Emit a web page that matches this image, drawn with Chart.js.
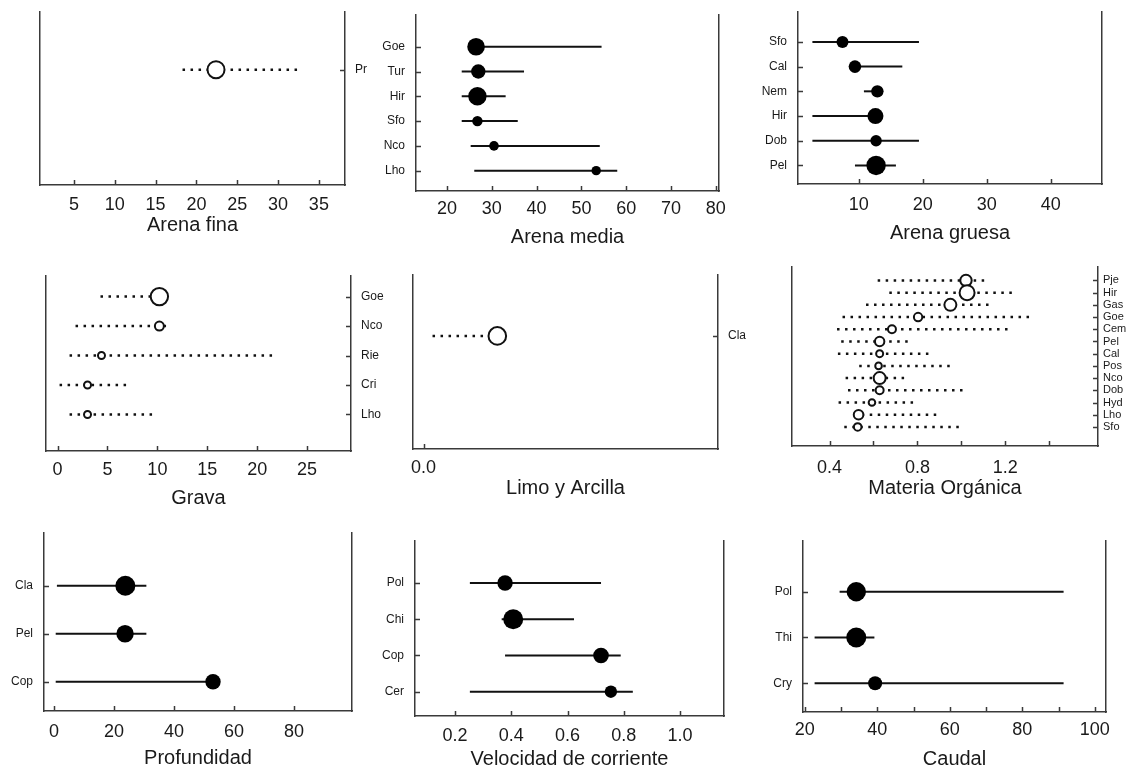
<!DOCTYPE html>
<html lang="es">
<head>
<meta charset="utf-8">
<title>Variables de hábitat por taxón</title>
<script src="https://cdn.jsdelivr.net/npm/chart.js@4.4.1/dist/chart.umd.min.js"></script>
<style>
  html, body { margin: 0; padding: 0; background: #fff; }
  #board { position: relative; width: 1128px; height: 776px; overflow: hidden; }
  #board canvas { position: absolute; }
</style>
</head>
<body>
<div id="board"></div>
<script>
"use strict";

// ---- data: one block per variable, taxa listed top to bottom ----
const finaCats = ["Pr"];
const finaMean = [22.4];
const finaLow = [18.3];
const finaHigh = [32.8];
const finaRadius = [8.5];
const finaTicks = [5, 10, 15, 20, 25, 30, 35];
const finaTickLabels = ["5", "10", "15", "20", "25", "30", "35"];

const mediaCats = ["Goe", "Tur", "Hir", "Sfo", "Nco", "Lho"];
const mediaMean = [26.5, 27.0, 26.8, 26.8, 30.5, 53.3];
const mediaLow = [25.5, 23.3, 23.3, 23.3, 25.3, 26.1];
const mediaHigh = [54.5, 37.2, 33.1, 35.8, 54.1, 58.0];
const mediaRadius = [8.8, 7.2, 9.2, 5.2, 4.8, 4.7];
const mediaTicks = [20, 30, 40, 50, 60, 70, 80];
const mediaTickLabels = ["20", "30", "40", "50", "60", "70", "80"];

const gruesaCats = ["Sfo", "Cal", "Nem", "Hir", "Dob", "Pel"];
const gruesaMean = [7.45, 9.4, 12.9, 12.6, 12.7, 12.7];
const gruesaLow = [2.75, 8.8, 10.8, 2.75, 2.75, 9.4];
const gruesaHigh = [19.4, 16.8, 13.8, 13.3, 19.4, 15.8];
const gruesaRadius = [6, 6.3, 6.2, 8, 5.7, 9.7];
const gruesaTicks = [10, 20, 30, 40];
const gruesaTickLabels = ["10", "20", "30", "40"];

const gravaCats = ["Goe", "Nco", "Rie", "Cri", "Lho"];
const gravaMean = [10.2, 10.2, 4.4, 3.0, 3.0];
const gravaLow = [4.3, 1.8, 1.2, 0.2, 1.2];
const gravaHigh = [10.5, 11.0, 22.0, 7.05, 9.8];
const gravaRadius = [8.7, 4.5, 3.5, 3.5, 3.5];
const gravaTicks = [0, 5, 10, 15, 20, 25];
const gravaTickLabels = ["0", "5", "10", "15", "20", "25"];

const limoCats = ["Cla"];
const limoMean = [0.238];
const limoLow = [0.029];
const limoHigh = [0.25];
const limoRadius = [8.8];
const limoTicks = [0];
const limoTickLabels = ["0.0"];

const organicaCats = ["Pje", "Hir", "Gas", "Goe", "Cem", "Pel", "Cal", "Pos", "Nco", "Dob", "Hyd", "Lho", "Sfo"];
const organicaMean = [1.021, 1.026, 0.95, 0.803, 0.684, 0.628, 0.628, 0.623, 0.628, 0.628, 0.593, 0.532, 0.528];
const organicaLow = [0.619, 0.672, 0.566, 0.459, 0.434, 0.453, 0.438, 0.535, 0.473, 0.484, 0.441, 0.51, 0.467];
const organicaHigh = [1.117, 1.246, 1.135, 1.325, 1.223, 0.764, 0.863, 0.953, 0.745, 1.014, 0.786, 0.897, 0.999];
const organicaRadius = [5.7, 7.5, 6, 4.2, 4, 4.7, 3.5, 3.3, 6, 4, 3.3, 4.8, 3.8];
const organicaTicks = [0.4, 0.6, 0.8, 1.0, 1.2, 1.4];
const organicaTickLabels = ["0.4", "", "0.8", "", "1.2", ""];

const profCats = ["Cla", "Pel", "Cop"];
const profMean = [23.8, 23.7, 53.0];
const profLow = [1.0, 0.6, 0.6];
const profHigh = [30.8, 30.8, 53.5];
const profRadius = [10, 8.7, 7.7];
const profTicks = [0, 20, 40, 60, 80];
const profTickLabels = ["0", "20", "40", "60", "80"];

const veloCats = ["Pol", "Chi", "Cop", "Cer"];
const veloMean = [0.378, 0.407, 0.719, 0.754];
const veloLow = [0.253, 0.366, 0.378, 0.253];
const veloHigh = [0.719, 0.623, 0.789, 0.832];
const veloRadius = [7.7, 10, 7.8, 6.2];
const veloTicks = [0.2, 0.4, 0.6, 0.8, 1.0];
const veloTickLabels = ["0.2", "0.4", "0.6", "0.8", "1.0"];

const caudalCats = ["Pol", "Thi", "Cry"];
const caudalMean = [34.2, 34.2, 39.4];
const caudalLow = [29.6, 22.7, 22.7];
const caudalHigh = [91.4, 39.2, 91.4];
const caudalRadius = [9.7, 10, 7];
const caudalTicks = [20, 30, 40, 50, 60, 70, 80, 90, 100];
const caudalTickLabels = ["20", "", "40", "", "60", "", "80", "", "100"];

// ---- look ----
const INK = "#111";
const AXIS = "#3a3a3a";
const TEXT = "#1a1a1a";
const FONT = "'Liberation Sans', Arial, sans-serif";
const SIDE = 50;      // width kept for each vertical axis
const TOP_PAD = 30;   // larger than the label padding the y scale asks for
const X_AXIS_H = 62;  // room under the plot for tick labels and title

// panel frames: plot box [left, top, right, bottom] on the page
const panels = [
  { title: "Arena fina", cats: finaCats, mean: finaMean, low: finaLow, high: finaHigh, radius: finaRadius,
    ticks: finaTicks, tickLabels: finaTickLabels, open: true, side: "right",
    box: [40, 12, 345, 185], xMin: 0.84, xMax: 38.2, yMin: -1, yMax: 2, tickPad: 9.5, titleOff: 40 },
  { title: "Arena media", cats: mediaCats, mean: mediaMean, low: mediaLow, high: mediaHigh, radius: mediaRadius,
    ticks: mediaTicks, tickLabels: mediaTickLabels, open: false, side: "left",
    box: [416, 15, 719, 191], xMin: 13.1, xMax: 80.7, yMin: 0.18, yMax: 7.28, tickPad: 7.5, titleOff: 46 },
  { title: "Arena gruesa", cats: gruesaCats, mean: gruesaMean, low: gruesaLow, high: gruesaHigh, radius: gruesaRadius,
    ticks: gruesaTicks, tickLabels: gruesaTickLabels, open: false, side: "left",
    box: [798, 12, 1102, 184], xMin: 0.5, xMax: 48, yMin: 0.25, yMax: 7.21, tickPad: 10.5, titleOff: 49 },
  { title: "Grava", cats: gravaCats, mean: gravaMean, low: gravaLow, high: gravaHigh, radius: gravaRadius,
    ticks: gravaTicks, tickLabels: gravaTickLabels, open: true, side: "right",
    box: [46, 276, 351, 451], xMin: -1.16, xMax: 29.4, yMin: -0.24, yMax: 5.7, tickPad: 8, titleOff: 47 },
  { title: "Limo y Arcilla", cats: limoCats, mean: limoMean, low: limoLow, high: limoHigh, radius: limoRadius,
    ticks: limoTicks, tickLabels: limoTickLabels, open: true, side: "right",
    box: [413, 275, 718, 449], xMin: -0.034, xMax: 0.95, yMin: -0.95, yMax: 2.05, tickPad: 8, titleOff: 39 },
  { title: "Materia Orgánica", cats: organicaCats, mean: organicaMean, low: organicaLow, high: organicaHigh, radius: organicaRadius,
    ticks: organicaTicks, tickLabels: organicaTickLabels, open: true, side: "right", labelSize: 11, labelPad: 5,
    box: [792, 267, 1098, 446], xMin: 0.229, xMax: 1.622, yMin: -0.56, yMax: 14.1, tickPad: 11.5, titleOff: 42.5 },
  { title: "Profundidad", cats: profCats, mean: profMean, low: profLow, high: profHigh, radius: profRadius,
    ticks: profTicks, tickLabels: profTickLabels, open: false, side: "left",
    box: [44, 533, 352, 711], xMin: -3.3, xMax: 99.3, yMin: 0.39, yMax: 4.1, tickPad: 10.5, titleOff: 47 },
  { title: "Velocidad de corriente", cats: veloCats, mean: veloMean, low: veloLow, high: veloHigh, radius: veloRadius,
    ticks: veloTicks, tickLabels: veloTickLabels, open: false, side: "left",
    box: [415, 541, 724, 716], xMin: 0.058, xMax: 1.156, yMin: 0.33, yMax: 5.16, tickPad: 9, titleOff: 43 },
  { title: "Caudal", cats: caudalCats, mean: caudalMean, low: caudalLow, high: caudalHigh, radius: caudalRadius,
    ticks: caudalTicks, tickLabels: caudalTickLabels, open: false, side: "left",
    box: [803, 541, 1106, 712], xMin: 19.5, xMax: 103.1, yMin: 0.37, yMax: 4.11, tickPad: 7.5, titleOff: 47.5 }
];

// short tick marks pointing into the plot
const innerTicks = {
  id: "innerTicks",
  afterDatasetsDraw(chart) {
    const { ctx, chartArea: a } = chart;
    const sx = chart.scales.x, sy = chart.scales.y;
    ctx.save();
    ctx.strokeStyle = AXIS;
    ctx.lineWidth = 1.5;
    ctx.beginPath();
    sx.ticks.forEach(t => {
      const px = Math.round(sx.getPixelForValue(t.value)) + 0.5;
      ctx.moveTo(px, a.bottom);
      ctx.lineTo(px, a.bottom - 5);
    });
    const edge = sy.position === "left" ? a.left : a.right;
    const dir = sy.position === "left" ? 1 : -1;
    sy.ticks.forEach(t => {
      const py = Math.round(sy.getPixelForValue(t.value)) + 0.5;
      ctx.moveTo(edge, py);
      ctx.lineTo(edge + dir * 5, py);
    });
    ctx.stroke();
    ctx.restore();
  }
};

function drawPanel(p) {
  const [L, T, R, B] = p.box;
  const canvas = document.createElement("canvas");
  canvas.width = R - L + 2 * SIDE;
  canvas.height = B - T + TOP_PAD + X_AXIS_H;
  canvas.style.left = (L - SIDE) + "px";
  canvas.style.top = (T - TOP_PAD) + "px";
  document.getElementById("board").appendChild(canvas);

  const n = p.cats.length;
  const rowY = i => n - i;

  // range bars, one per taxon
  const bars = p.cats.map((c, i) => ({
    label: c,
    showLine: true,
    data: [{ x: p.low[i], y: rowY(i) }, { x: p.high[i], y: rowY(i) }],
    borderColor: INK,
    borderWidth: p.open ? 2.5 : 2,
    borderDash: p.open ? [2.5, 5.5] : [],
    borderCapStyle: "butt",
    pointRadius: 0,
    order: 1
  }));

  const dots = {
    label: p.title,
    data: p.mean.map((m, i) => ({ x: m, y: rowY(i) })),
    pointRadius: p.radius,
    pointBackgroundColor: p.open ? "#fff" : "#000",
    pointBorderColor: INK,
    pointBorderWidth: p.open ? 2 : 0,
    order: 0
  };

  const border = { display: true, color: AXIS, width: 1.5 };

  new Chart(canvas.getContext("2d"), {
    type: "scatter",
    data: { datasets: [dots].concat(bars) },
    options: {
      responsive: false,
      animation: false,
      events: [],
      layout: { padding: { top: TOP_PAD, left: 0, right: 0, bottom: 0 } },
      plugins: { legend: { display: false }, tooltip: { enabled: false } },
      scales: {
        x: {
          type: "linear",
          min: p.xMin,
          max: p.xMax,
          afterBuildTicks: s => { s.ticks = p.ticks.map(v => ({ value: v })); },
          afterFit: s => { s.height = X_AXIS_H; },
          grid: { display: false, drawTicks: false },
          border: border,
          ticks: {
            autoSkip: false,
            maxRotation: 0,
            padding: p.tickPad,
            color: TEXT,
            font: { family: FONT, size: 18 },
            callback: (v, i) => p.tickLabels[i]
          },
          title: {
            display: true,
            text: p.title,
            color: TEXT,
            font: { family: FONT, size: 20 },
            padding: { top: 0, bottom: X_AXIS_H - p.titleOff - 12 }
          }
        },
        y: {
          type: "linear",
          position: p.side,
          min: p.yMin,
          max: p.yMax,
          afterBuildTicks: s => { s.ticks = p.cats.map((c, i) => ({ value: rowY(i) })); },
          afterFit: s => { s.width = SIDE; },
          grid: { display: false, drawTicks: false },
          border: border,
          ticks: {
            autoSkip: false,
            padding: p.labelPad || (p.side === "left" ? 11 : 10),
            color: TEXT,
            font: { family: FONT, size: p.labelSize || 12 },
            callback: (v, i) => p.cats[i]
          }
        },
        frame: {
          type: "linear",
          position: p.side === "left" ? "right" : "left",
          afterFit: s => { s.width = SIDE; },
          grid: { display: false, drawTicks: false },
          border: border,
          ticks: { display: false }
        }
      }
    },
    plugins: [innerTicks]
  });
}

panels.forEach(drawPanel);
</script>
</body>
</html>
